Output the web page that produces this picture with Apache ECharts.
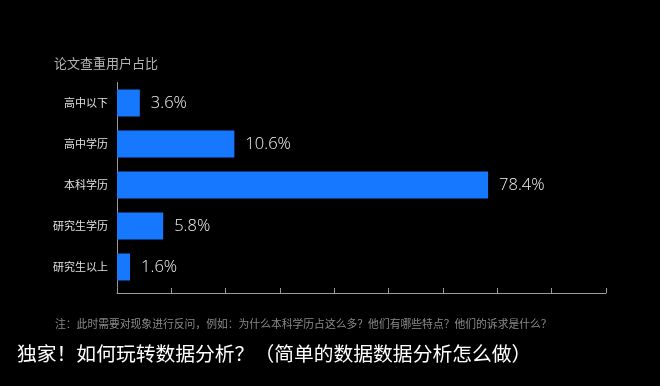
<!DOCTYPE html>
<html>
<head>
<meta charset="utf-8">
<script src="https://cdn.jsdelivr.net/npm/echarts@6/dist/echarts.min.js"></script>
<style>
html,body{margin:0;padding:0;background:#000;}
#chart{width:660px;height:386px;}
</style>
</head>
<body>
<div id="chart"></div>
<script>
// Data
const categories = ['高中以下', '高中学历', '本科学历', '研究生学历', '研究生以上'];
const shareLabels = ['3.6%', '10.6%', '78.4%', '5.8%', '1.6%'];
// bar lengths as drawn in the picture, in axis-tick units (axis 0..9, unlabelled)
const barLengths = [0.42, 2.16, 6.83, 0.85, 0.24];
const axisTicks = [0, 1, 2, 3, 4, 5, 6, 7, 8, 9];

const titleText = '论文查重用户占比';
const noteText = '注：此时需要对现象进行反问，例如：为什么本科学历占这么多？他们有哪些特点？他们的诉求是什么？';
const footerText = '独家！如何玩转数据分析？（简单的数据数据分析怎么做）';

const font = '"Noto Sans CJK SC", "Noto Sans", sans-serif';
const chart = echarts.init(document.getElementById('chart'), null, {renderer: 'canvas'});

chart.setOption({
  backgroundColor: '#000',
  animation: false,
  title: {
    text: titleText,
    left: 49, top: 52,
    textStyle: {color: '#b4b4b4', fontSize: 13, fontWeight: 'normal', fontFamily: font}
  },
  graphic: [
    {type: 'text', left: 55, top: 319,
     style: {text: noteText, fill: '#8a8a8a', fontSize: 10.8, fontFamily: font}},
    {type: 'text', left: 17, top: 344,
     style: {text: footerText, fill: '#ffffff', fontSize: 19.8, fontFamily: font}}
  ],
  grid: {left: 117, right: 54, top: 82.5, height: 205, containLabel: false},
  xAxis: {
    type: 'value',
    min: axisTicks[0],
    max: axisTicks[axisTicks.length - 1],
    interval: 1,
    offset: 5.5,
    axisLine: {show: true, lineStyle: {color: '#9a9a9a', width: 1}},
    axisTick: {show: true, inside: true, length: 5, lineStyle: {color: '#9a9a9a'}},
    axisLabel: {show: false},
    splitLine: {show: false}
  },
  yAxis: {
    type: 'category',
    inverse: true,
    data: categories,
    axisLine: {show: true, lineStyle: {color: '#9a9a9a', width: 1}},
    axisTick: {show: false},
    axisLabel: {color: '#e0e0e0', fontSize: 11, margin: 9, fontFamily: font}
  },
  series: [{
    type: 'bar',
    data: barLengths,
    barWidth: 27,
    itemStyle: {color: '#1677ff'},
    label: {
      show: true,
      position: 'right',
      distance: 11,
      color: '#f2f2f2',
      fontSize: 16.5,
      fontWeight: 300,
      fontFamily: '"Open Sans", "Noto Sans", sans-serif',
      formatter: p => shareLabels[p.dataIndex]
    }
  }]
});
</script>
</body>
</html>
